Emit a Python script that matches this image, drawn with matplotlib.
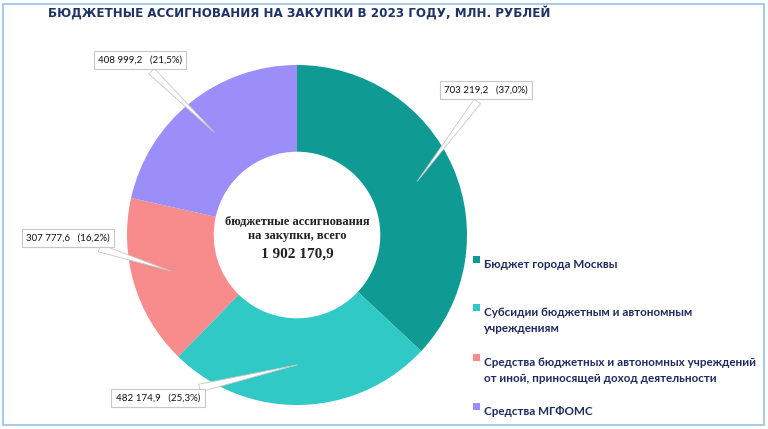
import numpy as np
import matplotlib
matplotlib.use('Agg')
import matplotlib.pyplot as plt
from matplotlib.patches import Rectangle
from matplotlib import font_manager

# Данные
categories = ['Бюджет города Москвы',
              'Субсидии бюджетным и автономным\nучреждениям',
              'Средства бюджетных и автономных учреждений\nот иной, приносящей доход деятельности',
              'Средства МГФОМС']
values = [703219.2, 482174.9, 307777.6, 408999.2]
percents = ['37,0%', '25,3%', '16,2%', '21,5%']
value_labels = ['703 219,2', '482 174,9', '307 777,6', '408 999,2']
total_label = '1 902 170,9'
title = 'БЮДЖЕТНЫЕ АССИГНОВАНИЯ НА ЗАКУПКИ В 2023 ГОДУ, МЛН. РУБЛЕЙ'

colors = ['#0f9b93', '#31c9c6', '#f88b8b', '#9b8ef8']
navy = '#1f2b5e'

W, H = 768, 429
fig = plt.figure(figsize=(W / 100, H / 100), dpi=100)
fig.patch.set_facecolor('white')

# рамка
fig.patches.append(Rectangle((3 / W, 4 / H), 761 / W, 421 / H, transform=fig.transFigure,
                             fill=False, edgecolor='#a9cbe8', linewidth=1.5))

# кольцевая диаграмма
cx, cy, r = 297, 235, 170
ax = fig.add_axes([(cx - r) / W, (H - cy - r) / H, 2 * r / W, 2 * r / H])
wedges, _ = ax.pie(values, colors=colors, startangle=90, counterclock=False,
                   radius=1.0, wedgeprops=dict(width=0.51, edgecolor='none'))
ax.set_xlim(-1, 1)
ax.set_ylim(-1, 1)
ax.set_aspect('equal')
ax.axis('off')

# текст в центре
ax.text(0, 0.035, 'бюджетные ассигнования\nна закупки, всего', ha='center', va='center',
        family='Liberation Serif', fontweight='bold', fontsize=9, color='#222222',
        linespacing=1.2)
ax.text(0, -0.11, total_label, ha='center', va='center', family='Liberation Serif',
        fontweight='bold', fontsize=11, color='#222222')

# выноски
box_pos = [(486, 90), (158, 398), (68, 238), (140, 60)]
for w, vl, pc, (bx, by) in zip(wedges, value_labels, percents, box_pos):
    ang = np.deg2rad((w.theta1 + w.theta2) / 2)
    tip = (0.76 * np.cos(ang), 0.76 * np.sin(ang))
    ax.annotate(vl + '   (' + pc + ')', xy=tip, xycoords='data',
                xytext=(bx / W, 1 - by / H), textcoords='figure fraction',
                ha='center', va='center', fontsize=7, color='#111111',
                family=['Lato', 'DejaVu Sans'],
                bbox=dict(boxstyle='square,pad=0.45', fc='white', ec='#c8c8c8', lw=0.8),
                arrowprops=dict(arrowstyle='wedge,tail_width=0.8,shrink_factor=0.5',
                                fc='white', ec='#c8c8c8', lw=0.6),
                annotation_clip=False)

# легенда
leg_y = [259, 307, 357, 406]
for c, lab, y in zip(colors, categories, leg_y):
    fig.patches.append(Rectangle((473 / W, 1 - (y + 4) / H), 7 / W, 7 / H,
                                 transform=fig.transFigure, fc=c, ec='none'))
    fig.text(484 / W, 1 - y / H, lab, ha='left', va='top', fontsize=8.35, fontweight='bold',
             color=navy, family=['Lato', 'DejaVu Sans'], linespacing=1.5)

# заголовок (узкий шрифт, если есть)
narrow = None
for f in font_manager.fontManager.ttflist:
    n = f.fname.lower()
    if ('condensed' in n or 'narrow' in n) and 'bold' in n and 'oblique' not in n and 'italic' not in n:
        narrow = f.fname
        break
if narrow:
    tprop = font_manager.FontProperties(fname=narrow, size=9.5)
else:
    tprop = font_manager.FontProperties(family='Liberation Sans', weight='bold', size=8.6)
fig.text(48 / W, 1 - 13 / H, title, ha='left', va='center', color='#1f3366',
         fontproperties=tprop)

fig.savefig('out.png', dpi=100)
